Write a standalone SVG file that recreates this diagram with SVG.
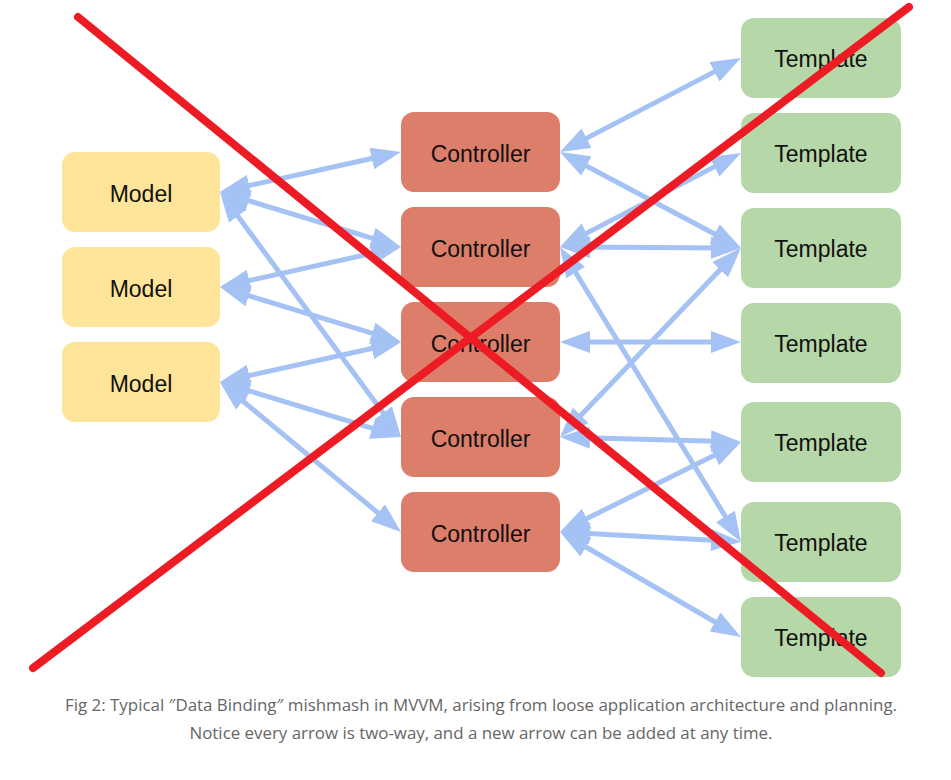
<svg xmlns="http://www.w3.org/2000/svg" width="951" height="780" viewBox="0 0 951 780">
<defs>
<style>
.m{fill:#ffe599}
.c{fill:#dd7e6b}
.t{fill:#b6d7a8}
.lbl{font-family:"Liberation Sans",Arial,sans-serif;font-size:23px;fill:#111;text-anchor:middle}
.a{stroke:#a4c2f4;stroke-width:5;fill:none;marker-start:url(#h);marker-end:url(#h)}
.x{stroke:#ed1c24;stroke-width:8;stroke-linecap:round;fill:none}
.cap{font-family:"Open Sans","Noto Sans",sans-serif;font-size:16px;fill:#666;text-anchor:middle}
</style>
<marker id="h" viewBox="0 0 30 22" refX="15" refY="11" markerWidth="30" markerHeight="22" markerUnits="userSpaceOnUse" orient="auto-start-reverse">
<path d="M0,0 L30,11 L0,22 z" fill="#a4c2f4"/>
</marker>
</defs>
<rect width="951" height="780" fill="#fff"/>
<g id="connectors">
<line class="a" x1="234.6" y1="188.8" x2="386.4" y2="155.2"/>
<line class="a" x1="234.4" y1="196.4" x2="386.6" y2="242.6"/>
<line class="a" x1="228.9" y1="204.1" x2="392.1" y2="424.9"/>
<line class="a" x1="234.6" y1="283.8" x2="386.4" y2="250.2"/>
<line class="a" x1="234.4" y1="291.4" x2="386.6" y2="337.6"/>
<line class="a" x1="234.6" y1="378.8" x2="386.4" y2="345.2"/>
<line class="a" x1="234.4" y1="386.4" x2="386.6" y2="432.6"/>
<line class="a" x1="231.5" y1="391.6" x2="389.5" y2="522.4"/>
<line class="a" x1="573.3" y1="145.1" x2="727.7" y2="64.9"/>
<line class="a" x1="573.2" y1="159" x2="727.8" y2="241"/>
<line class="a" x1="573.3" y1="240.1" x2="727.7" y2="159.9"/>
<line class="a" x1="575" y1="247.1" x2="726" y2="247.9"/>
<line class="a" x1="567.8" y1="259.8" x2="733.2" y2="529.2"/>
<line class="a" x1="570.4" y1="426.2" x2="730.6" y2="258.8"/>
<line class="a" x1="575" y1="342" x2="726" y2="342"/>
<line class="a" x1="575" y1="437.4" x2="726" y2="441.6"/>
<line class="a" x1="573.4" y1="525.3" x2="727.6" y2="448.7"/>
<line class="a" x1="575" y1="532.7" x2="726" y2="540.9"/>
<line class="a" x1="573" y1="539.5" x2="728" y2="629.5"/>
</g>
<g id="model1"><rect class="m" x="62" y="152" width="158" height="80" rx="13"/><text class="lbl" x="141" y="202">Model</text></g>
<g id="model2"><rect class="m" x="62" y="247" width="158" height="80" rx="13"/><text class="lbl" x="141" y="297">Model</text></g>
<g id="model3"><rect class="m" x="62" y="342" width="158" height="80" rx="13"/><text class="lbl" x="141" y="392">Model</text></g>
<g id="controller1"><rect class="c" x="401" y="112" width="159" height="80" rx="13"/><text class="lbl" x="480.5" y="162">Controller</text></g>
<g id="controller2"><rect class="c" x="401" y="207" width="159" height="80" rx="13"/><text class="lbl" x="480.5" y="257">Controller</text></g>
<g id="controller3"><rect class="c" x="401" y="302" width="159" height="80" rx="13"/><text class="lbl" x="480.5" y="352">Controller</text></g>
<g id="controller4"><rect class="c" x="401" y="397" width="159" height="80" rx="13"/><text class="lbl" x="480.5" y="447">Controller</text></g>
<g id="controller5"><rect class="c" x="401" y="492" width="159" height="80" rx="13"/><text class="lbl" x="480.5" y="542">Controller</text></g>
<g id="template1"><rect class="t" x="741" y="18" width="160" height="80" rx="13"/><text class="lbl" x="821" y="67">Template</text></g>
<g id="template2"><rect class="t" x="741" y="113" width="160" height="80" rx="13"/><text class="lbl" x="821" y="162">Template</text></g>
<g id="template3"><rect class="t" x="741" y="208" width="160" height="80" rx="13"/><text class="lbl" x="821" y="257">Template</text></g>
<g id="template4"><rect class="t" x="741" y="303" width="160" height="80" rx="13"/><text class="lbl" x="821" y="352">Template</text></g>
<g id="template5"><rect class="t" x="741" y="402" width="160" height="80" rx="13"/><text class="lbl" x="821" y="451">Template</text></g>
<g id="template6"><rect class="t" x="741" y="502" width="160" height="80" rx="13"/><text class="lbl" x="821" y="551">Template</text></g>
<g id="template7"><rect class="t" x="741" y="597" width="160" height="80" rx="13"/><text class="lbl" x="821" y="646">Template</text></g>
<g id="cross">
<line class="x" x1="78" y1="17" x2="881" y2="673"/>
<line class="x" x1="33" y1="668" x2="909" y2="7"/>
</g>
<g id="caption">
<text class="cap" x="481" y="711" textLength="832" lengthAdjust="spacingAndGlyphs">Fig 2: Typical ″Data Binding″ mishmash in MVVM, arising from loose application architecture and planning.</text>
<text class="cap" x="481" y="739" textLength="583" lengthAdjust="spacingAndGlyphs">Notice every arrow is two-way, and a new arrow can be added at any time.</text>
</g>
</svg>
